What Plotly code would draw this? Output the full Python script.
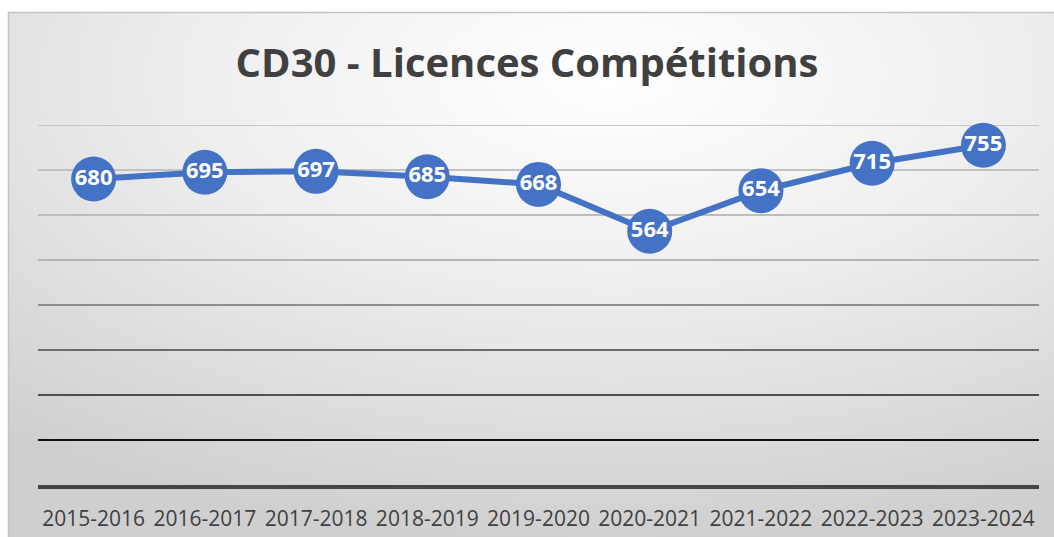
import base64
import plotly.graph_objects as go

seasons = ["2015-2016", "2016-2017", "2017-2018", "2018-2019", "2019-2020",
           "2020-2021", "2021-2022", "2022-2023", "2023-2024"]
licences = [680, 695, 697, 685, 668, 564, 654, 715, 755]
grid_values = [100, 200, 300, 400, 500, 600, 700, 800]
grid_colors = ["#111111", "#4f4f4f", "#6c6c6c", "#8e8e8e",
               "#b4b4b4", "#bdbdbd", "#c2c2c2", "#c8c8c8"]

W, H = 1054, 537
L, R, T, B = 38, 1039, 125, 485

svg = f'''<svg xmlns="http://www.w3.org/2000/svg" width="1100" height="560" viewBox="0 0 1100 560" preserveAspectRatio="none">
<defs><radialGradient id="g" cx="0.55" cy="0.12" r="0.85" gradientUnits="objectBoundingBox">
<stop offset="0" stop-color="#ffffff"/><stop offset="0.45" stop-color="#eeeeee"/><stop offset="1" stop-color="#cfcfcf"/>
</radialGradient></defs><rect width="1100" height="560" fill="url(#g)"/></svg>'''
src = "data:image/svg+xml;base64," + base64.b64encode(svg.encode()).decode()

def px(x):
    return (x - L) / (R - L)

def py(y):
    return (B - y) / (B - T)

fig = go.Figure()
fig.add_trace(go.Scatter(
    x=seasons, y=licences, mode="lines+markers+text",
    text=[str(v) for v in licences], textposition="middle center",
    textfont=dict(family="Open Sans", size=22, color="white", weight="bold"),
    line=dict(color="#4472C4", width=6),
    marker=dict(color="#4472C4", size=45),
    cliponaxis=False, showlegend=False, hoverinfo="skip",
))

shapes = []
for v, c in zip(grid_values, grid_colors):
    shapes.append(dict(type="line", xref="paper", yref="y", x0=0, x1=1, y0=v, y1=v,
                       line=dict(color=c, width=2), layer="below"))
shapes.append(dict(type="rect", xref="paper", yref="paper",
                   x0=px(8.5), x1=px(1080), y0=py(12.5), y1=py(560),
                   line=dict(color="#c4c4c4", width=1.5), fillcolor="rgba(0,0,0,0)", layer="below"))

fig.update_layout(
    width=W, height=H,
    margin=dict(l=L, r=W - R, t=T, b=H - B, autoexpand=False),
    paper_bgcolor="white", plot_bgcolor="rgba(0,0,0,0)",
    title=dict(text="<b>CD30 - Licences Compétitions</b>", x=0.5, xanchor="center",
               y=1 - 63 / H, yanchor="middle",
               font=dict(family="Open Sans", size=40, color="#404040")),
    images=[dict(source=src, xref="paper", yref="paper", x=px(8), y=py(12),
                 sizex=(1100 - 8) / (R - L), sizey=(560 - 12) / (B - T),
                 xanchor="left", yanchor="top", sizing="stretch", layer="below")],
    shapes=shapes,
    xaxis=dict(range=[-0.5, len(seasons) - 0.5], autorange=False, automargin=False,
               showgrid=False, zeroline=False, showline=True, linecolor="#454545",
               linewidth=4, layer="below traces", ticks="outside",
               ticklen=12, tickcolor="rgba(0,0,0,0)",
               tickfont=dict(family="Open Sans", size=21, color="#404040"),
               fixedrange=True),
    yaxis=dict(range=[0, 800], autorange=False, automargin=False,
               showgrid=False, zeroline=False, showticklabels=False,
               showline=False, fixedrange=True),
)

fig.write_html("out.html", config={"displayModeBar": False},
               post_script="document.body.style.margin='0';document.body.style.overflow='hidden';")
